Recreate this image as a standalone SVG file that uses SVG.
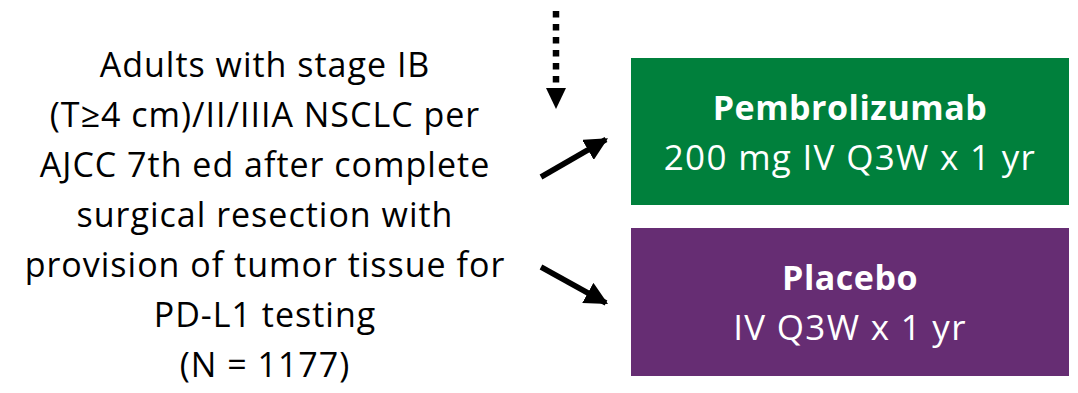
<svg xmlns="http://www.w3.org/2000/svg" width="1078" height="393" viewBox="0 0 1078 393">
  <style>
    .lbl { font-family: "Open Sans", "Liberation Sans", sans-serif; font-size: 34px; letter-spacing: 1px; fill: #000; text-anchor: middle; }
    .arm-title { font-family: "Open Sans", "Liberation Sans", sans-serif; font-size: 34px; letter-spacing: 0.5px; font-weight: bold; fill: #fff; text-anchor: middle; }
    .arm-sub { font-family: "Open Sans", "Liberation Sans", sans-serif; font-size: 35px; letter-spacing: 1.3px; fill: #fff; text-anchor: middle; }
    .conn { stroke: #000; stroke-width: 5.5; fill: none; }
  </style>
  <defs>
    <marker id="head" viewBox="0 0 10 10" refX="9" refY="5" markerWidth="4.2" markerHeight="4.2" markerUnits="strokeWidth" orient="auto">
      <path d="M0,0 L10,5 L0,10 Z" fill="#000"/>
    </marker>
  </defs>
  <rect width="1078" height="393" fill="#fff"/>

  <g id="population">
    <text class="lbl" x="265" y="77">Adults with stage IB</text>
    <text class="lbl" x="265" y="127">(T≥4 cm)/II/IIIA NSCLC per</text>
    <text class="lbl" x="265" y="177">AJCC 7th ed after complete</text>
    <text class="lbl" x="265" y="227">surgical resection with</text>
    <text class="lbl" x="265" y="277">provision of tumor tissue for</text>
    <text class="lbl" x="265" y="327">PD-L1 testing</text>
    <text class="lbl" x="265" y="377">(N = 1177)</text>
  </g>

  <g id="pembrolizumab">
    <rect x="631" y="58" width="438" height="147" fill="#00803c"/>
    <text class="arm-title" x="850" y="120">Pembrolizumab</text>
    <text class="arm-sub" x="850" y="170">200 mg IV Q3W x 1 yr</text>
  </g>

  <g id="placebo">
    <rect x="631" y="228" width="438" height="148" fill="#662d73"/>
    <text class="arm-title" x="850" y="290">Placebo</text>
    <text class="arm-sub" x="850" y="340">IV Q3W x 1 yr</text>
  </g>

  <g id="connectors">
    <line x1="556" y1="11" x2="556" y2="86" stroke="#000" stroke-width="6.5" stroke-dasharray="6.5 6.5"/>
    <path d="M546,88 L566,88 L556,109 Z" fill="#000"/>
    <line class="conn" x1="541" y1="177" x2="606" y2="139.5" marker-end="url(#head)"/>
    <line class="conn" x1="541" y1="267" x2="606" y2="303" marker-end="url(#head)"/>
  </g>
</svg>
